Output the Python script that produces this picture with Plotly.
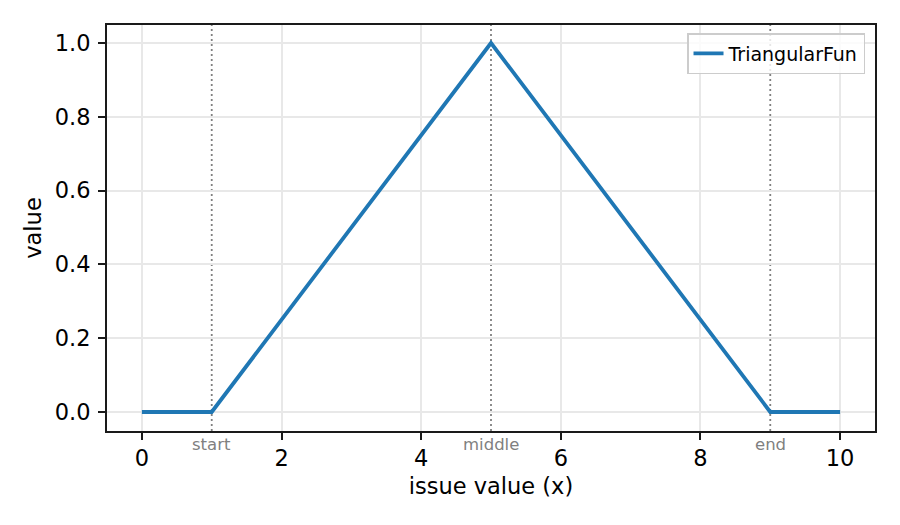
import plotly.graph_objects as go

x_vals = [0, 1, 5, 9, 10]
y_vals = [0.0, 0.0, 1.0, 0.0, 0.0]
series_name = "TriangularFun"
marker_x = [1, 5, 9]
marker_labels = ["start", "middle", "end"]
x_ticks = [0, 2, 4, 6, 8, 10]
y_ticks = [0.0, 0.2, 0.4, 0.6, 0.8, 1.0]
y_tick_text = ["0.0", "0.2", "0.4", "0.6", "0.8", "1.0"]

font_family = "DejaVu Sans"

fig = go.Figure()
fig.add_trace(go.Scatter(
    x=x_vals, y=y_vals, mode="lines", name=series_name,
    line=dict(color="#1f77b4", width=3.8),
))

for xv, lab in zip(marker_x, marker_labels):
    fig.add_shape(type="line", x0=xv, x1=xv, xref="x", y0=0, y1=1, yref="paper",
                  line=dict(color="#808080", width=1.8, dash="2px,3px"), layer="below")
    fig.add_annotation(x=xv, xref="x", y=0, yref="paper", yshift=-13, text=lab,
                       showarrow=False, yanchor="middle", xanchor="center",
                       font=dict(family=font_family, size=16.5, color="#808080"))

axis_common = dict(
    showline=True, linecolor="#1a1a1a", linewidth=2, mirror=True,
    ticks="outside", ticklen=7, tickwidth=2, tickcolor="#1a1a1a",
    showgrid=True, gridcolor="#e8e8e8", gridwidth=1.5,
    zeroline=False,
    tickfont=dict(family=font_family, size=22.5, color="#000000"),
    title_font=dict(family=font_family, size=22.5, color="#000000"),
)

fig.update_layout(
    width=892, height=517,
    margin=dict(l=99, r=25, t=17, b=94),
    paper_bgcolor="white", plot_bgcolor="white",
    font=dict(family=font_family, color="#000000"),
    xaxis=dict(range=[-0.5, 10.5], tickvals=x_ticks, ticklabelstandoff=-1,
               title=dict(text="issue value (x)", standoff=8), **axis_common),
    yaxis=dict(range=[-0.0515, 1.0488], tickvals=y_ticks, ticktext=y_tick_text, ticklabelstandoff=3,
               title=dict(text="value", standoff=7), **axis_common),
    legend=dict(x=0.987, y=0.98, xanchor="right", yanchor="top",
                bgcolor="rgba(255,255,255,0.8)", bordercolor="#cccccc", borderwidth=1.5,
                font=dict(family=font_family, size=19, color="#000000")),
    showlegend=True,
)

fig.write_html("out.html")
